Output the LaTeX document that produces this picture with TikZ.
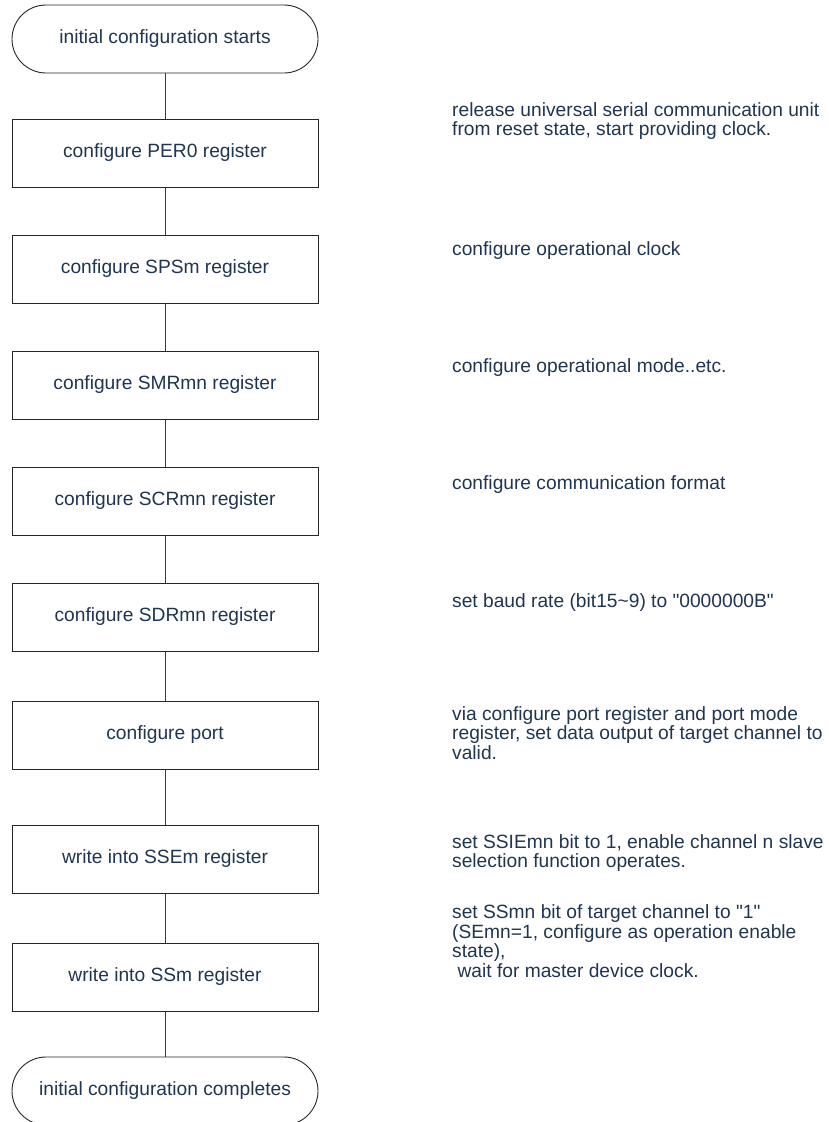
\documentclass[tikz,border=0pt]{standalone}
\usepackage{fontspec}
\setmainfont{Liberation Sans}
\usetikzlibrary{positioning}
\definecolor{txtblue}{HTML}{1F3550}
\definecolor{edgegray}{HTML}{3A3A3A}

\begin{document}
\begin{tikzpicture}[
    x=1pt, y=1pt,
    node distance=48pt,
    box/.style={draw=black!85, line width=0.9pt, minimum height=68pt, minimum width=306pt, text=txtblue, font=\fontsize{19.2}{19.5}\selectfont, inner sep=0pt, outer sep=0pt},
    term/.style={box, rounded corners=34pt},
    note/.style={anchor=west, align=left, text=txtblue, font=\fontsize{19.2}{19.5}\selectfont, inner sep=0pt},
    link/.style={draw=edgegray, line width=0.9pt}
]
\useasboundingbox (0,0) rectangle (829,-1122);
% flow column
\node[term] (start) at (165,-39) {initial configuration starts};
\node[box, below=46pt of start] (per)  {configure PER0 register};
\node[box, below=of per]        (sps)  {configure SPSm register};
\node[box, below=of sps]        (smr)  {configure SMRmn register};
\node[box, below=of smr]        (scr)  {configure SCRmn register};
\node[box, below=of scr]        (sdr)  {configure SDRmn register};
\node[box, below=50pt of sdr]   (port) {configure port};
\node[box, below=56pt of port]  (sse)  {write into SSEm register};
\node[box, below=50pt of sse]   (ss)   {write into SSm register};
\node[term, below=46pt of ss]   (stop) {initial configuration completes};
\foreach \a/\b in {start/per, per/sps, sps/smr, smr/scr, scr/sdr, sdr/port, port/sse, sse/ss, ss/stop}
    \draw[link] (\a) -- (\b);
% notes on the right
\node[note] (nper)  at (452,-121) {release universal serial communication unit\\from reset state, start providing clock.};
\node[note] (nsps)  at (452,-251) {configure operational clock};
\node[note] (nsmr)  at (452,-368) {configure operational mode..etc.};
\node[note] (nscr)  at (452,-485) {configure communication format};
\node[note] (nsdr)  at (452,-603) {set baud rate (bit15\textasciitilde9) to \textquotedbl0000000B\textquotedbl};
\node[note] (nport) at (452,-733) {via configure port register and port mode\\register, set data output of target channel to\\valid.};
\node[note] (nsse)  at (452,-853) {set SSIEmn bit to 1, enable channel n slave\\selection function operates.};
\node[note] (nss)   at (452,-941) {set SSmn bit of target channel to \textquotedbl1\textquotedbl\\(SEmn=1, configure as operation enable\\state),\\\hspace*{0.28em}wait for master device clock.};
\end{tikzpicture}
\end{document}
